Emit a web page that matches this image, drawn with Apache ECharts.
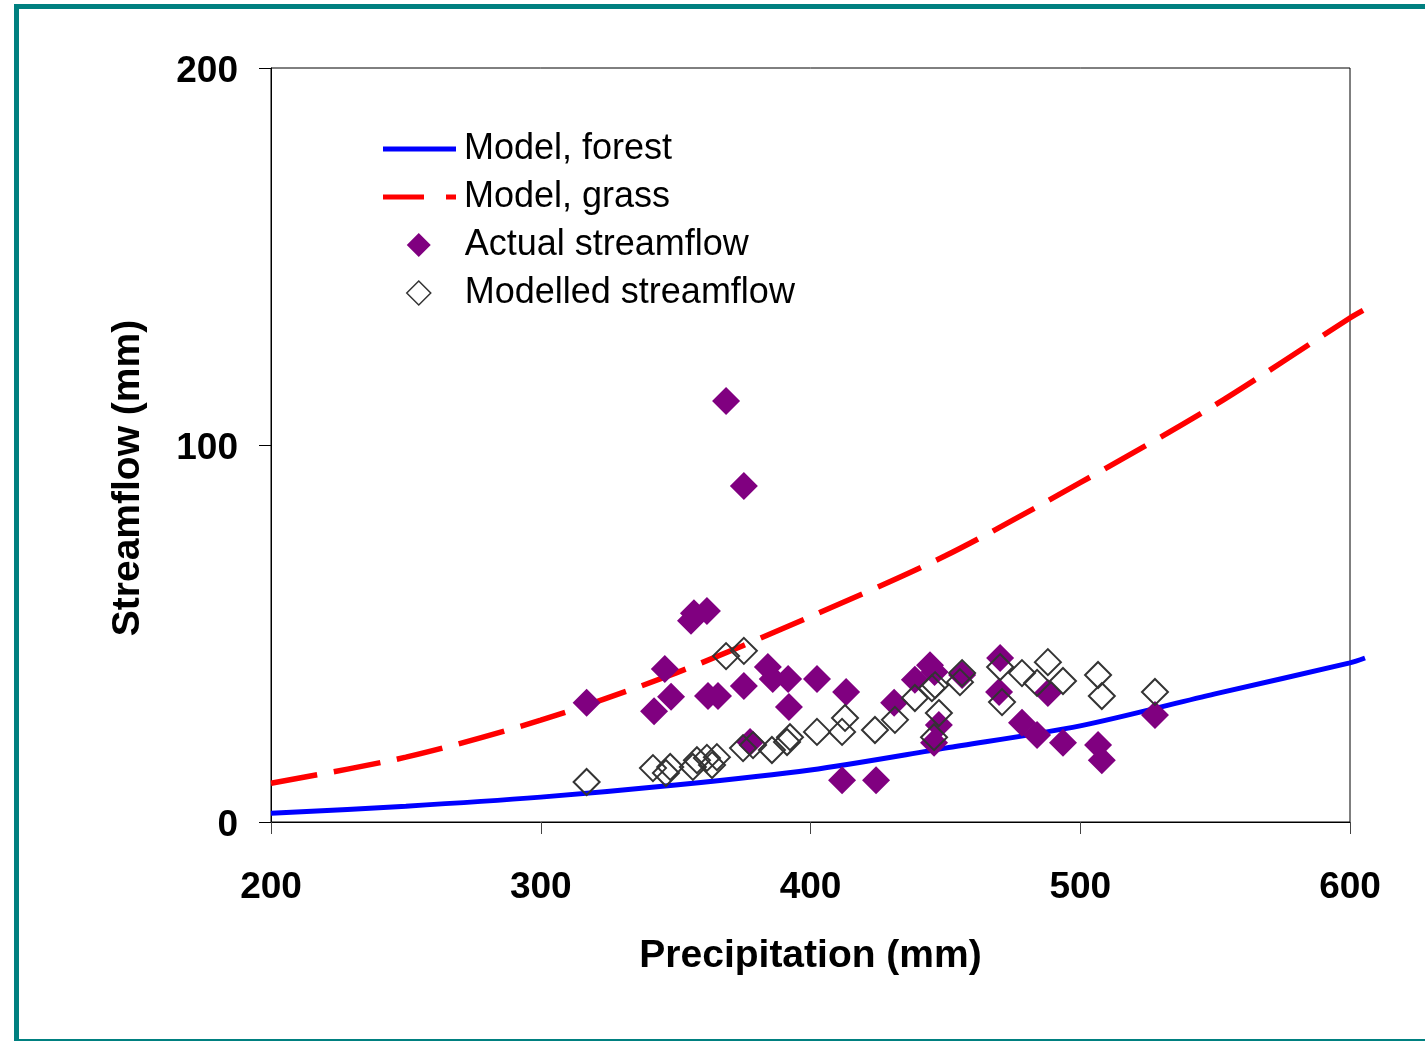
<!DOCTYPE html>
<html>
<head>
<meta charset="utf-8">
<script src="https://cdn.jsdelivr.net/npm/echarts@6/dist/echarts.min.js"></script>
<style>
  html, body { margin: 0; padding: 0; background: #fff; width: 1425px; height: 1041px; overflow: hidden; }
  #frame { position: absolute; left: 14px; top: 4px; width: 1500px; height: 1040px; box-sizing: border-box; border: 5px solid #008080; }
  #chart { position: absolute; left: 0; top: 0; width: 1425px; height: 1041px; }
</style>
</head>
<body>
<div id="frame"></div>
<div id="chart"></div>
<script>
// Axis ticks
var xTicks = [200, 300, 400, 500, 600];
var yTicks = [0, 100, 200];
var lineXMax = 605.6; // model curves run a little past the plot frame

// Model curves [precipitation, streamflow]
var modelForest = [[200, 2.3], [250, 4.2], [300, 6.6], [350, 9.8], [400, 13.8], [450, 19.6], [500, 25.5], [550, 34], [600, 42.2], [605.6, 43.5]];
var modelGrass = [[200, 10.3], [250, 17.2], [300, 27], [350, 39.5], [400, 54.5], [450, 70.6], [500, 90], [550, 110.6], [600, 133.7], [605.6, 136]];

// Observed streamflow [precipitation, streamflow]
var actualFlow = [[368.7, 111.7], [375.3, 89.1], [355.7, 53.4], [356.8, 55.4], [361.6, 56], [346, 40.6], [317, 31.6], [348.3, 33.2], [342, 29.4], [362, 33.4], [365.7, 33.4], [375.3, 36.1], [384.2, 41.1], [386, 37.9], [391.7, 37.9], [402.4, 37.9], [413.2, 34.5], [392, 30.5], [377.6, 21.2], [411.7, 11.1], [424.3, 11.1], [431, 31.6], [438.7, 37.7], [444.3, 41.6], [446, 39.8], [456.2, 39], [447.6, 25.7], [445.8, 21], [470.3, 43.5], [469.9, 34.5], [478.4, 26.3], [484, 23.1], [488, 34.2], [493.6, 21], [506.6, 20.4], [508, 16.4], [527.7, 28.4]];

// Modelled streamflow [precipitation, streamflow]
var modelledFlow = [[317, 10.6], [368.7, 44], [375.3, 45.4], [341.6, 14.3], [346.4, 13], [348, 14.6], [356.4, 14.6], [357.9, 16.4], [361.6, 17], [365.3, 17.2], [363.5, 15.1], [375, 19.6], [378.7, 20.4], [385.7, 19.1], [392.4, 22.5], [391.3, 21.2], [402.4, 23.9], [411.7, 23.9], [412.8, 27.6], [423.9, 24.4], [431.3, 27.1], [438.7, 32.9], [445, 35.5], [446.2, 36.3], [447.6, 28.9], [445.8, 22.5], [456.2, 39.5], [455.4, 37.1], [470.3, 41.1], [471, 31.8], [478.4, 39.5], [484, 36.9], [488, 42.4], [493.6, 37.4], [506.6, 39], [508, 33.4], [527.7, 34.5]];

var FONT = '"Liberation Sans", Arial, Helvetica, sans-serif';
var LEG_FONT = 36;

var chart = echarts.init(document.getElementById('chart'), null, { renderer: 'canvas' });
chart.setOption({
  animation: false,
  backgroundColor: 'transparent',
  grid: [
    { left: 271, top: 68, right: 75, bottom: 219, show: true, borderColor: '#000', borderWidth: 1, backgroundColor: 'transparent' },
    { left: 271, top: 68, right: 60, bottom: 219, show: false }
  ],
  legend: [
    {
      orient: 'vertical', left: 383, top: 131, padding: 0,
      itemWidth: 73, itemHeight: 5, itemGap: 12,
      textStyle: { fontSize: LEG_FONT, fontFamily: FONT, color: '#000', padding: [0, 0, 0, 3] },
      data: [
        { name: 'Model, forest', icon: 'path://M0,0h73v5h-73z' },
        { name: 'Model, grass', icon: 'path://M0,0h41v5h-41z M63,0h10v5h-10z' }
      ]
    },
    {
      orient: 'vertical', left: 406, top: 227, padding: 0,
      itemWidth: 24, itemHeight: 24, itemGap: 12,
      textStyle: { fontSize: LEG_FONT, fontFamily: FONT, color: '#000', padding: [0, 0, 0, 29] },
      data: [
        { name: 'Actual streamflow', icon: 'diamond' },
        { name: 'Modelled streamflow', icon: 'diamond', itemStyle: { borderWidth: 1.5 } }
      ]
    }
  ],
  xAxis: [
    {
      type: 'value', gridIndex: 0,
      min: xTicks[0], max: xTicks[xTicks.length - 1], interval: 100,
      name: 'Precipitation (mm)', nameLocation: 'middle', nameGap: 115,
      nameTextStyle: { fontSize: 39, fontWeight: 'bold', fontFamily: FONT, color: '#000' },
      axisLine: { show: true, onZero: false, lineStyle: { color: '#000', width: 1 } },
      axisTick: { show: true, inside: false, length: 12, lineStyle: { color: '#444', width: 1 } },
      axisLabel: { margin: 47, fontSize: 37, fontWeight: 'bold', fontFamily: FONT, color: '#000' },
      splitLine: { show: false }
    },
    {
      type: 'value', gridIndex: 1, min: xTicks[0], max: lineXMax, show: false, splitLine: { show: false }
    }
  ],
  yAxis: [
    {
      type: 'value', gridIndex: 0,
      min: yTicks[0], max: yTicks[yTicks.length - 1], interval: 100,
      name: 'Streamflow (mm)', nameLocation: 'middle', nameGap: 123,
      nameTextStyle: { fontSize: 39, fontWeight: 'bold', fontFamily: FONT, color: '#000', padding: [0, 66, 0, 0] },
      axisLine: { show: true, onZero: false, lineStyle: { color: '#000', width: 1 } },
      axisTick: { show: true, inside: false, length: 12, lineStyle: { color: '#000', width: 1 } },
      axisLabel: {
        margin: 33, fontSize: 37, fontWeight: 'bold', fontFamily: FONT, color: '#000',
        formatter: '{v|{value}}',
        rich: { v: { fontSize: 37, fontWeight: 'bold', fontFamily: FONT, color: '#000', padding: [8, 0, 0, 0] } }
      },
      splitLine: { show: false }
    },
    {
      type: 'value', gridIndex: 1, min: yTicks[0], max: yTicks[yTicks.length - 1], show: false, splitLine: { show: false }
    }
  ],
  series: [
    {
      name: 'Model, forest', type: 'line', xAxisIndex: 1, yAxisIndex: 1,
      data: modelForest, smooth: 0.3, showSymbol: false, symbol: 'none', z: 2,
      lineStyle: { color: '#0000FF', width: 5, type: 'solid' },
      itemStyle: { color: '#0000FF' }
    },
    {
      name: 'Model, grass', type: 'line', xAxisIndex: 1, yAxisIndex: 1,
      data: modelGrass, smooth: 0.3, showSymbol: false, symbol: 'none', z: 2,
      lineStyle: { color: '#FF0000', width: 5.5, type: [47, 17] },
      itemStyle: { color: '#FF0000' }
    },
    {
      name: 'Actual streamflow', type: 'scatter', xAxisIndex: 0, yAxisIndex: 0,
      data: actualFlow, symbol: 'diamond', symbolSize: 28, z: 3,
      itemStyle: { color: '#800080', opacity: 1 }
    },
    {
      name: 'Modelled streamflow', type: 'scatter', xAxisIndex: 0, yAxisIndex: 0,
      data: modelledFlow, symbol: 'diamond', symbolSize: 26, z: 4,
      itemStyle: { color: 'rgba(255,255,255,0)', borderColor: '#333333', borderWidth: 2, opacity: 1 }
    }
  ]
});
</script>
</body>
</html>
